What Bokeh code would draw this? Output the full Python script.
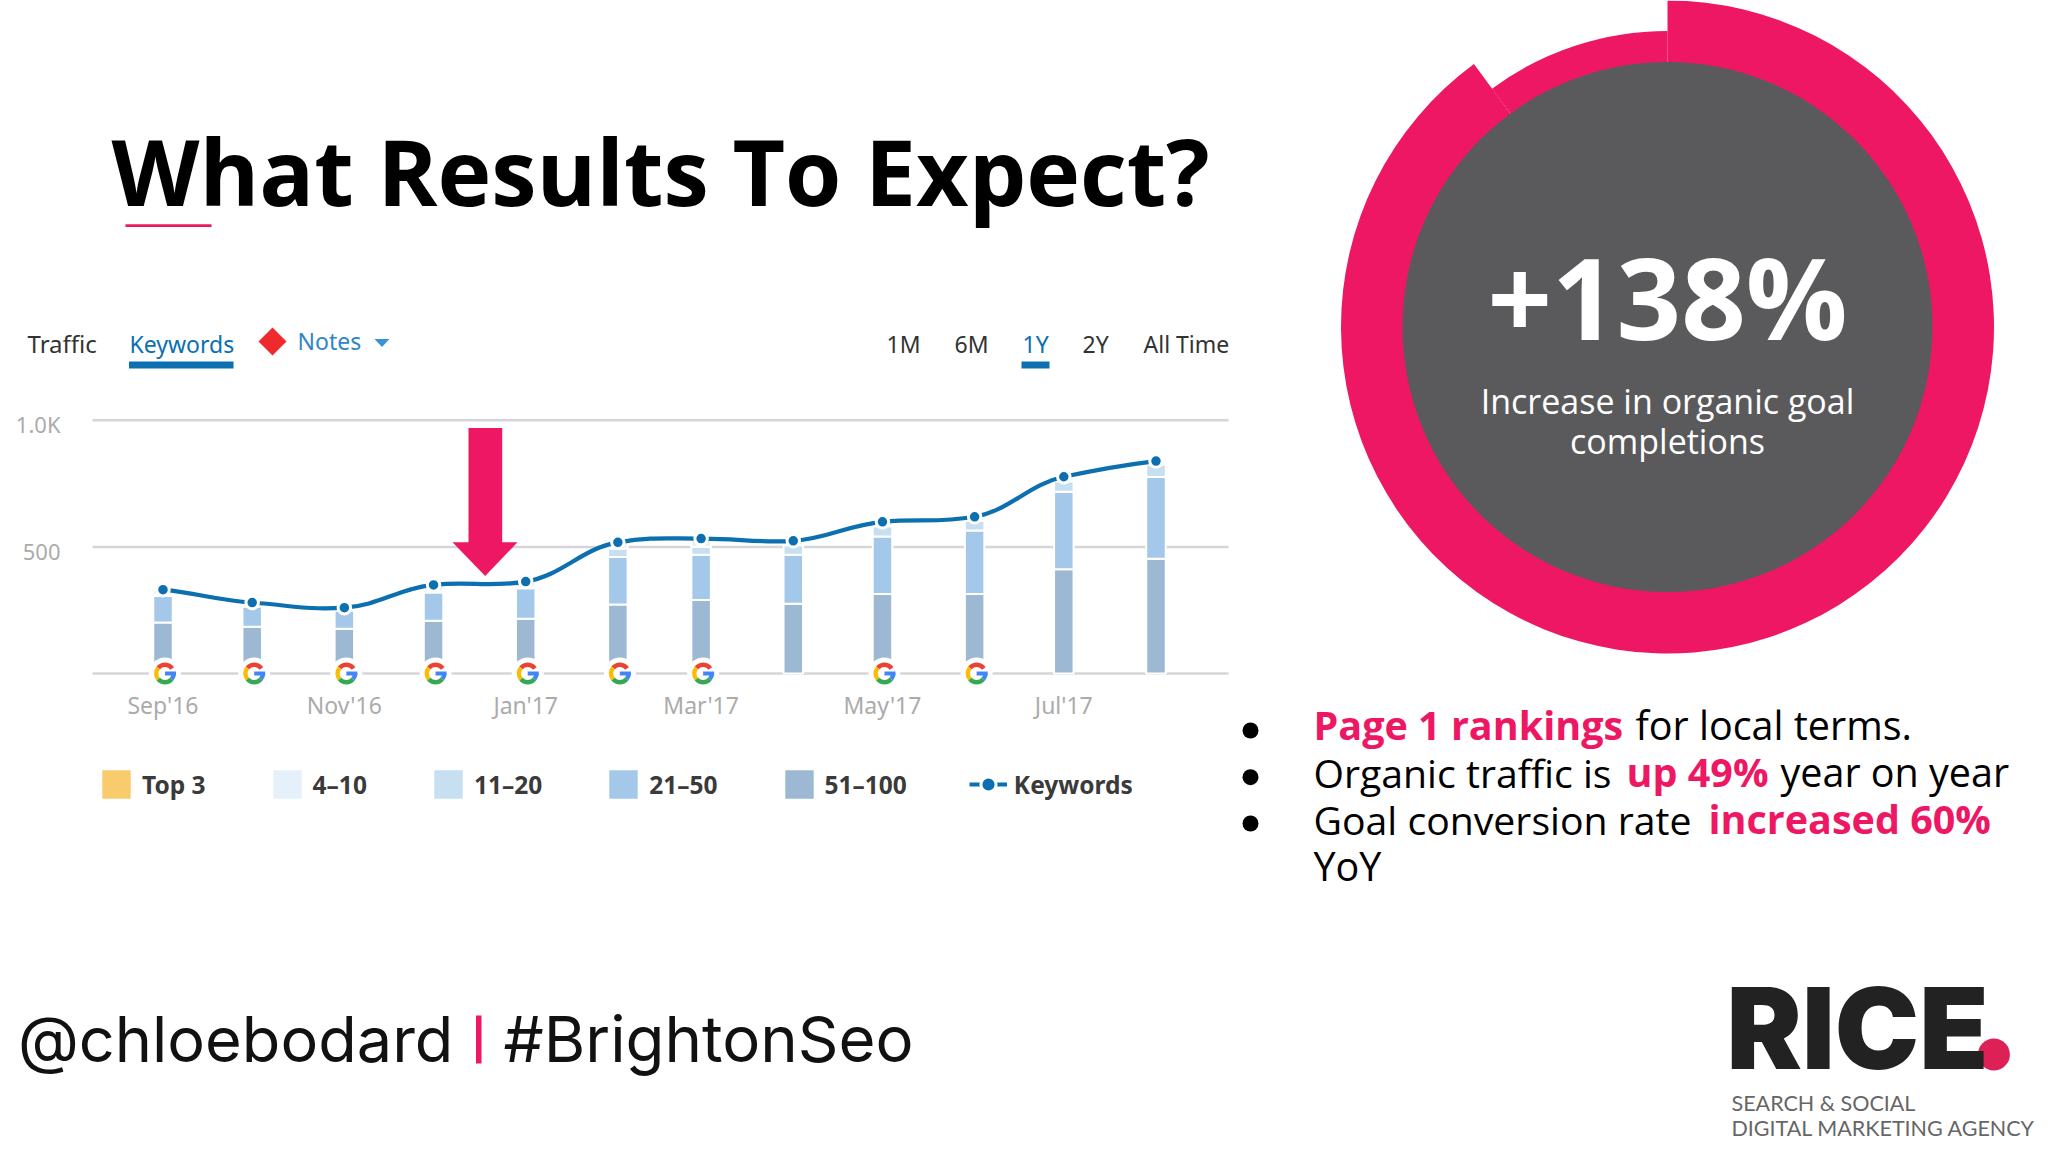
import pandas as pd
from bokeh.embed import file_html
from bokeh.resources import INLINE
from bokeh.plotting import figure
from bokeh.models import (ColumnDataSource, FixedTicker, Label, Legend, LegendItem,
                          LinearAxis, Range1d)

# ---- data ----
months = ["2016-09-01", "2016-10-01", "2016-11-01", "2016-12-01", "2017-01-01", "2017-02-01",
          "2017-03-01", "2017-04-01", "2017-05-01", "2017-06-01", "2017-07-01", "2017-08-01"]
keywords = [331, 280, 260, 350, 363, 518, 533, 524, 599, 619, 777, 839]
pos_51_100 = [201, 185, 177, 208, 216, 273, 290, 275, 314, 314, 412, 453]
pos_21_50 = [105, 80, 72, 112, 121, 187, 179, 194, 227, 251, 306, 323]
pos_11_20 = [5, 5, 5, 5, 5, 34, 32, 38, 41, 38, 41, 49]
pos_4_10 = [19, 9, 5, 24, 20, 23, 31, 16, 16, 15, 17, 13]
pos_top3 = [1, 1, 1, 1, 1, 1, 1, 1, 1, 1, 1, 1]
google_update_months = ["2016-09-01", "2016-10-01", "2016-11-01", "2016-12-01", "2017-01-01",
                        "2017-02-01", "2017-03-01", "2017-05-01", "2017-06-01"]
x_tick_months = ["2016-09-01", "2016-11-01", "2017-01-01", "2017-03-01", "2017-05-01", "2017-07-01"]
x_tick_labels = ["Sep'16", "Nov'16", "Jan'17", "Mar'17", "May'17", "Jul'17"]
y_ticks = [0, 500, 1000]
y_tick_labels = ["", "500", "1.0K"]
legend_labels = ["Top 3", "4–10", "11–20", "21–50", "51–100", "Keywords"]
ring_share_thick = 0.899
headline = "+138%"

# ---- page geometry: the page range is in window pixels ----
PAGE_W, PAGE_H = 2048, 1152
PINK = "#EE1763"
BLUE = "#0B6FB0"
DAY = 86400000.0
PX_PER_DAY = 2.973
X0_PX, Y0_PX, PX_PER_UNIT = 162.5, 673.0, 0.2532
BASELINE_K = 0.39
Y_LABEL_DROP = 4


def ms(d):
    return pd.Timestamp(d).value / 1e6


T0 = ms(months[0])
MS_PER_PX = DAY / PX_PER_DAY


def t_at(px):
    return T0 + (px - X0_PX) * MS_PER_PX


def v_at(py):
    return (Y0_PX - py) / PX_PER_UNIT


p = figure(width=PAGE_W, height=PAGE_H, output_backend="svg", toolbar_location=None,
           x_range=Range1d(0, PAGE_W), y_range=Range1d(PAGE_H, 0),
           min_border=0, outline_line_color=None, x_axis_type=None, y_axis_type=None)
p.grid.visible = False
p.extra_x_ranges["chart"] = Range1d(t_at(0), t_at(PAGE_W))
p.extra_y_ranges["chart"] = Range1d(v_at(PAGE_H), v_at(0))
p.extra_y_ranges["chart_labels"] = Range1d(v_at(PAGE_H - Y_LABEL_DROP), v_at(-Y_LABEL_DROP))
CH = dict(x_range_name="chart", y_range_name="chart")


def text(x, y, s, size, color="#000000", font="Open Sans", style="normal", align="left"):
    p.add_layout(Label(x=x, y=y - BASELINE_K * size, text=s, text_font=font, text_font_size=f"{size}px",
                       text_color=color, text_font_style=style, text_align=align,
                       text_baseline="alphabetic"))


# ---- axes of the chart ----
xaxis = LinearAxis(x_range_name="chart", fixed_location=Y0_PX,
                   ticker=FixedTicker(ticks=[ms(d) for d in x_tick_months]),
                   major_label_overrides={ms(d): l for d, l in zip(x_tick_months, x_tick_labels)},
                   axis_line_color=None, major_tick_line_color=None, minor_tick_line_color=None,
                   major_label_standoff=9, major_label_text_font="Noto Sans",
                   major_label_text_font_size="23px", major_label_text_color="#ABABAB")
p.add_layout(xaxis, "below")
yaxis = LinearAxis(y_range_name="chart_labels", fixed_location=66,
                   ticker=FixedTicker(ticks=y_ticks),
                   major_label_overrides=dict(zip(y_ticks, y_tick_labels)),
                   axis_line_color=None, major_tick_line_color=None, minor_tick_line_color=None,
                   major_label_standoff=0, major_label_text_font="Noto Sans",
                   major_label_text_font_size="22px", major_label_text_color="#ABABAB")
p.add_layout(yaxis, "left")

# gridlines spanning only the chart width
p.segment(x0=[t_at(92)] * len(y_ticks), x1=[t_at(1228)] * len(y_ticks), y0=y_ticks, y1=y_ticks,
          line_color="#D6D6DA", line_width=2.5, **CH)

# ---- stacked bars ----
xs = [ms(d) for d in months]
src = ColumnDataSource(dict(x=xs, a=pos_51_100, b=pos_21_50, c=pos_11_20, d=pos_4_10, e=pos_top3))
bars = p.vbar_stack(["a", "b", "c", "d", "e"], x="x", width=19.5 * MS_PER_PX, source=src,
                    color=["#9DB8D3", "#A4C8E9", "#C6DFF1", "#E6F0FA", "#F8CB6D"],
                    line_color="white", line_width=2, **CH)

# ---- Google update icons ----
gx = [ms(d) + 2 * MS_PER_PX for d in google_update_months]
gy = [0] * len(gx)
p.circle(gx, gy, radius=16, radius_units="screen", fill_color="white", line_color=None, **CH)
for start, end, col in [(35, 140, "#EA4335"), (140, 220, "#FBBC05"), (220, 320, "#34A853"), (320, 360, "#4285F4")]:
    p.annular_wedge(gx, gy, inner_radius=6.5, outer_radius=11, inner_radius_units="screen",
                    outer_radius_units="screen", start_angle=start, end_angle=end, start_angle_units="deg",
                    end_angle_units="deg", fill_color=col, line_color=None, **CH)
p.rect([g + 5.5 * MS_PER_PX for g in gx], gy, width=11, height=4, width_units="screen", height_units="screen",
       fill_color="#4285F4", line_color=None, **CH)

# ---- keywords curve: a smooth Bezier through the read values ----
n = len(xs)
slopes = []
for i in range(n):
    a, b = max(i - 1, 0), min(i + 1, n - 1)
    slopes.append((keywords[b] - keywords[a]) / (xs[b] - xs[a]))
x0, y0, x1, y1, cx0, cy0, cx1, cy1 = [], [], [], [], [], [], [], []
for i in range(n - 1):
    h = (xs[i + 1] - xs[i]) * 0.4
    x0.append(xs[i]); y0.append(keywords[i]); x1.append(xs[i + 1]); y1.append(keywords[i + 1])
    cx0.append(xs[i] + h); cy0.append(keywords[i] + slopes[i] * h * 0.7)
    cx1.append(xs[i + 1] - h); cy1.append(keywords[i + 1] - slopes[i + 1] * h * 0.7)
curve = p.bezier(x0=x0, y0=y0, x1=x1, y1=y1, cx0=cx0, cy0=cy0, cx1=cx1, cy1=cy1,
                 line_color=BLUE, line_width=4.2, **CH)
dots = p.scatter(xs, keywords, size=12.5, fill_color=BLUE, line_color="white", line_width=3, **CH)

legend = Legend(items=[LegendItem(label=l, renderers=[r])
                       for l, r in zip(legend_labels[:5], list(reversed(bars)))]
                      + [LegendItem(label=legend_labels[5], renderers=[curve, dots])],
                orientation="horizontal", location=(97, 349), spacing=62, label_standoff=7,
                glyph_width=38, glyph_height=38, padding=0, margin=0, border_line_color=None,
                background_fill_alpha=0, label_text_font="Noto Sans", label_text_font_style="bold",
                label_text_font_size="24.5px", label_text_color="#3A3A3A")
p.add_layout(legend, "center")

# ---- tabs above the chart ----
text(27, 352, "Traffic", 24, "#333333", "Noto Sans")
text(129, 352, "Keywords", 23, BLUE, "Noto Sans")
p.quad(left=[128.5], right=[233], top=[361], bottom=[368], fill_color=BLUE, line_color=None)
p.patch([258, 272, 286, 272], [341, 327, 341, 355], fill_color="#EE2A2E", line_color=None)
text(297, 349, "Notes", 23, "#2F86C6", "Noto Sans")
p.patch([374, 389, 381.5], [338.5, 338.5, 346.5], fill_color="#3A93D4", line_color=None)
text(886, 352, "1M", 23, "#333333", "Noto Sans")
text(954, 352, "6M", 23, "#333333", "Noto Sans")
text(1022, 352, "1Y", 23, BLUE, "Noto Sans")
p.quad(left=[1021], right=[1049], top=[361], bottom=[368], fill_color=BLUE, line_color=None)
text(1082, 352, "2Y", 23, "#333333", "Noto Sans")
text(1143, 352, "All Time", 23, "#333333", "Noto Sans")

# ---- pink arrow ----
p.patch([468, 501.7, 501.7, 517, 484.7, 452, 468], [427.4, 427.4, 541.7, 541.7, 575.5, 541.7, 541.7],
        fill_color=PINK, line_color=None)

# ---- title ----
text(111, 205.7, "What Results To Expect?", 91, "#000000", "Open Sans", "bold")
p.quad(left=[125], right=[211], top=[223.7], bottom=[226.5], fill_color=PINK, line_color=None)

# ---- ring ----
cx, cy = 1667, 326.5
thick_deg = ring_share_thick * 360
p.annular_wedge([cx], [cy], inner_radius=260, outer_radius=326.5, inner_radius_units="screen",
                outer_radius_units="screen", start_angle=90 + 360 - thick_deg, end_angle=90 + 360,
                start_angle_units="deg", end_angle_units="deg", fill_color=PINK, line_color=None)
p.annular_wedge([cx], [cy], inner_radius=260, outer_radius=296, inner_radius_units="screen",
                outer_radius_units="screen", start_angle=90, end_angle=90 + 360 - thick_deg,
                start_angle_units="deg", end_angle_units="deg", fill_color=PINK, line_color=None)
p.circle([cx], [cy], radius=265, radius_units="screen", fill_color="#5A5A5C", line_color=None)
text(cx, 339.5, headline, 113, "#FFFFFF", "Open Sans", "bold", "center")
text(cx, 414, "Increase in organic goal", 34, "#FFFFFF", "Open Sans", "normal", "center")
text(cx, 454, "completions", 34, "#FFFFFF", "Open Sans", "normal", "center")

# ---- bullets ----
p.circle([1250, 1250, 1250], [730, 776.7, 823], radius=8, radius_units="screen", fill_color="#000000", line_color=None)
text(1313, 740, "Page 1 rankings", 39.5, PINK, style="bold")
text(1635, 740, "for local terms.", 39.5)
text(1313, 787, "Organic traffic is", 39.2)
text(1626, 787, "up 49%", 39.5, PINK, style="bold")
text(1780, 787, "year on year", 39.5)
text(1313, 834, "Goal conversion rate", 39.2)
text(1708, 834, "increased 60%", 39.5, PINK, style="bold")
text(1313, 881, "YoY", 39.5)

# ---- footer ----
text(17.5, 1063, "@chloebodard", 63, "#111111", "Inter")
p.quad(left=[475.5], right=[481], top=[1015], bottom=[1063], fill_color=PINK, line_color=None)
text(503, 1063, "#BrightonSeo", 63.5, "#111111", "Inter")

# ---- logo ----
text(1726, 1072, "RICE", 113, "#222222", "Inter Black", "bold")
p.circle([1993.4], [1054], radius=16, radius_units="screen", fill_color="#DD2055", line_color=None)
text(1731, 1111, "SEARCH & SOCIAL", 21.5, "#666666", "Lato")
text(1731, 1136, "DIGITAL MARKETING AGENCY", 21.5, "#666666", "Lato")

open("out.html", "w").write(file_html(p, INLINE))
